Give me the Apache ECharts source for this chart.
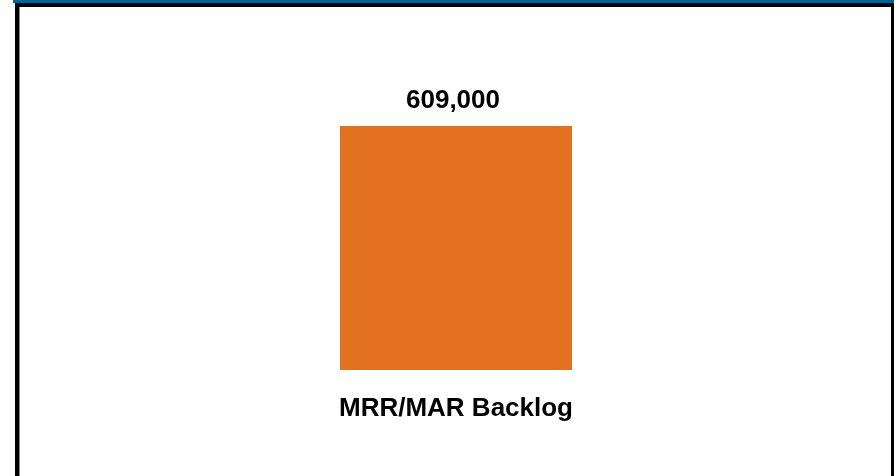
<!DOCTYPE html>
<html>
<head>
<meta charset="utf-8">
<style>
  html, body { margin: 0; padding: 0; background: #fff; }
  #chart { width: 894px; height: 476px; }
</style>
<script src="https://cdn.jsdelivr.net/npm/echarts@6/dist/echarts.min.js"></script>
</head>
<body>
<div id="chart"></div>
<script>
// Backlog total
const categories = ['MRR/MAR Backlog'];
const backlogValues = [609000];

const chart = echarts.init(document.getElementById('chart'), null, { renderer: 'canvas' });

const fmt = v => v.toLocaleString('en-US');

chart.setOption({
  animation: false,
  backgroundColor: '#ffffff',
  grid: { left: 20, right: 2, top: 126, bottom: 106, containLabel: false },
  xAxis: {
    type: 'category',
    data: categories,
    axisLine: { show: false },
    axisTick: { show: false },
    axisLabel: {
      margin: 26,
      color: '#000',
      fontFamily: 'Liberation Sans, Arial, sans-serif',
      fontWeight: 'bold',
      fontSize: 26
    }
  },
  yAxis: {
    type: 'value',
    min: 0,
    max: 609000,
    show: false,
    splitLine: { show: false }
  },
  series: [{
    type: 'bar',
    data: backlogValues,
    barWidth: 232,
    itemStyle: { color: '#E47120' },
    label: {
      show: true,
      position: 'top',
      distance: 12,
      offset: [-3, 0],
      formatter: p => fmt(p.value),
      color: '#000',
      fontFamily: 'Liberation Sans, Arial, sans-serif',
      fontWeight: 'bold',
      fontSize: 26
    }
  }],
  graphic: [
    // frame: blue strip along the top, black border below it and on the sides
    { type: 'rect', shape: { x: 13, y: 0, width: 881, height: 3 }, style: { fill: '#0F5E8C' }, silent: true },
    { type: 'rect', shape: { x: 15, y: 3, width: 879, height: 4 }, style: { fill: '#000' }, silent: true },
    { type: 'rect', shape: { x: 15, y: 3, width: 4, height: 473 }, style: { fill: '#000' }, silent: true },
    { type: 'rect', shape: { x: 19, y: 7, width: 1, height: 469 }, style: { fill: '#888' }, silent: true },
    { type: 'rect', shape: { x: 891, y: 3, width: 3, height: 473 }, style: { fill: '#000' }, silent: true }
  ]
});
</script>
</body>
</html>
